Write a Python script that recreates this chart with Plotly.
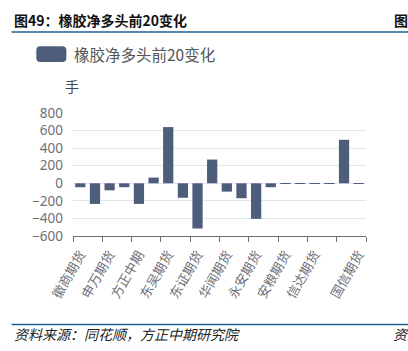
import plotly.graph_objects as go

# ---- data ----
positions = list(range(20))
values = [-45, -235, -80, -45, -235, 65, 640, -165, -515, 270,
          -95, -170, -405, -45, 2, 1, 1, 2, 495, 1]
label_positions = [0, 2, 4, 6, 8, 10, 12, 14, 16, 19]
label_texts = ["徽商期货", "申万期货", "方正中期", "东吴期货", "东证期货",
               "华闻期货", "永安期货", "安粮期货", "信达期货", "国信期货"]
tick_marks = [-0.5, 1.5, 3.5, 5.5, 7.5, 9.5, 11.5, 13.5, 15.5, 17.5, 19.5]
y_ticks = [-600, -400, -200, 0, 200, 400, 600, 800]
series_name = "橡胶净多头前20变化"

W, H = 408, 351
X0, X1 = 73.3, 365.7
Y0, Y1 = 112.7, 235.7  # top, bottom of plot area


def px(x):
    return (x - X0) / (X1 - X0)


def py(y):
    return (Y1 - y) / (Y1 - Y0)


FONT = "Noto Sans CJK SC, Noto Sans, sans-serif"
BAR = "#4e5d7a"
GRAY = "#6e7079"

fig = go.Figure()
fig.add_trace(go.Bar(x=positions, y=values, name=series_name,
                     marker=dict(color=BAR, line=dict(width=0)),
                     showlegend=False))

fig.update_layout(
    width=W, height=H,
    margin=dict(l=X0, r=W - X1, t=Y0, b=H - Y1, pad=0),
    paper_bgcolor="white", plot_bgcolor="white",
    bargap=0.3,
    font=dict(family=FONT, color=GRAY),
    xaxis=dict(range=[-0.5, 19.5], tickmode="array", tickvals=label_positions,
               ticktext=label_texts, tickangle=-60, ticks="",
               tickfont=dict(size=13, color=GRAY, family=FONT),
               ticklabelstandoff=5,
               minor=dict(tickmode="array", tickvals=tick_marks, ticks="outside",
                          ticklen=5, tickcolor=GRAY, tickwidth=1, showgrid=False),
               showgrid=False, zeroline=False, showline=True,
               linecolor=GRAY, linewidth=1, fixedrange=True),
    yaxis=dict(range=[-600, 800], tickmode="array", tickvals=y_ticks,
               tickfont=dict(size=13.5, color=GRAY, family="Noto Sans, sans-serif"),
               showgrid=True, gridcolor="#e0e6f1", gridwidth=1,
               zeroline=True, zerolinecolor="#e0e6f1", zerolinewidth=1,
               showline=False, ticks="", ticklabelstandoff=9),
)

anns = []
anns.append(dict(text="<b>图49：橡胶净多头前20变化</b>", x=px(12), y=py(20),
                 xref="paper", yref="paper", xanchor="left", yanchor="middle",
                 showarrow=False, font=dict(size=14, color="#111111", family=FONT)))
anns.append(dict(text="<b>图</b>", x=px(392), y=py(20),
                 xref="paper", yref="paper", xanchor="left", yanchor="middle",
                 showarrow=False, font=dict(size=14, color="#111111", family=FONT)))
anns.append(dict(text=series_name, x=px(72.5), y=py(54),
                 xref="paper", yref="paper", xanchor="left", yanchor="middle",
                 showarrow=False, font=dict(size=15.5, color="#555555", family=FONT)))
anns.append(dict(text="手", x=px(72), y=py(86),
                 xref="paper", yref="paper", xanchor="center", yanchor="middle",
                 showarrow=False, font=dict(size=14, color="#444444", family=FONT)))
anns.append(dict(text="资料来源：同花顺，方正中期研究院", x=px(12), y=py(334),
                 xref="paper", yref="paper", xanchor="left", yanchor="middle",
                 showarrow=False,
                 font=dict(size=14, color="#222222", family=FONT, style="italic")))
anns.append(dict(text="资", x=px(391), y=py(334),
                 xref="paper", yref="paper", xanchor="left", yanchor="middle",
                 showarrow=False,
                 font=dict(size=14, color="#222222", family=FONT, style="italic")))
fig.update_layout(annotations=anns)

# decorative lines and legend swatch
lx0, lx1, ly0, ly1, r = px(36.7), px(66.7), py(46), py(61.7), 4
rx = r / (X1 - X0)
ry = r / (Y1 - Y0)
path = (f"M {lx0+rx},{ly0} L {lx1-rx},{ly0} Q {lx1},{ly0} {lx1},{ly0-ry} "
        f"L {lx1},{ly1+ry} Q {lx1},{ly1} {lx1-rx},{ly1} L {lx0+rx},{ly1} "
        f"Q {lx0},{ly1} {lx0},{ly1+ry} L {lx0},{ly0-ry} Q {lx0},{ly0} {lx0+rx},{ly0} Z")
fig.update_layout(shapes=[
    dict(type="line", xref="paper", yref="paper", x0=px(12), x1=px(408),
         y0=py(31.7), y1=py(31.7), line=dict(color="#1f5f8f", width=1.5)),
    dict(type="line", xref="paper", yref="paper", x0=px(12), x1=px(408),
         y0=py(324.3), y1=py(324.3), line=dict(color="#1f5f8f", width=1.5)),
    dict(type="path", xref="paper", yref="paper", path=path,
         fillcolor=BAR, line=dict(width=0)),
])

fig.write_html("out.html", config={"displayModeBar": False})
